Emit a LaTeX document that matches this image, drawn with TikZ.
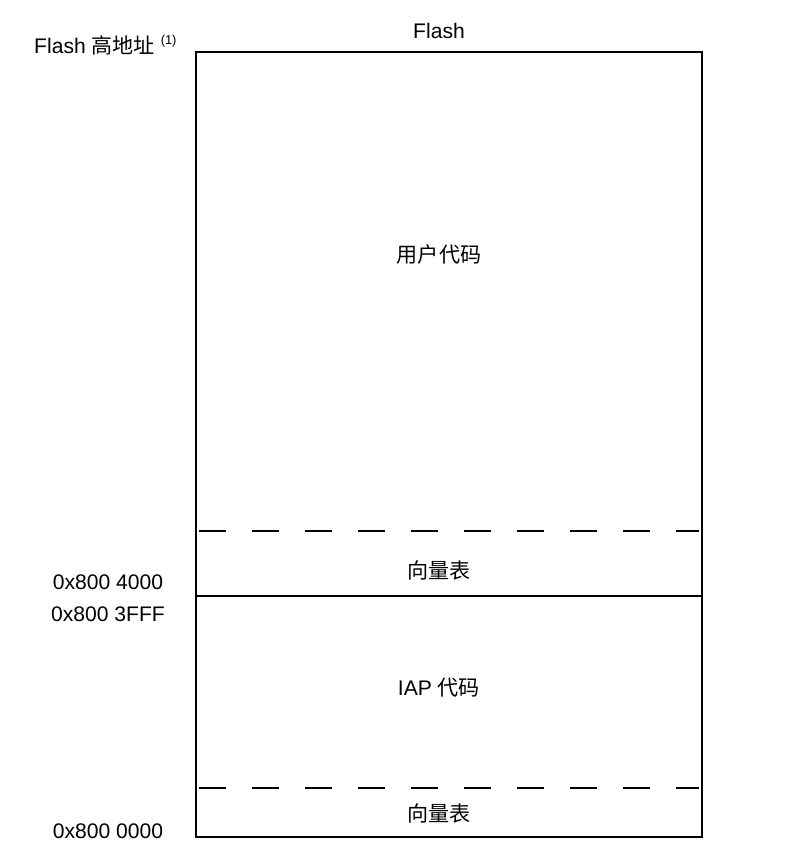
\documentclass[tikz,border=0pt]{standalone}
\usepackage{fontspec}
\setmainfont{Liberation Sans}
\newfontfamily\cjk{Noto Sans CJK SC}
\usetikzlibrary{positioning}

\begin{document}
\begin{tikzpicture}[x=0.03cm,y=-0.03cm,
  lbl/.style={font=\fontsize{18}{21}\selectfont,inner sep=0pt},
  cjklbl/.style={font=\fontsize{18}{21}\selectfont\cjk,inner sep=0pt},
  border/.style={line width=1.5pt},
  cut/.style={line width=1.7pt,dash pattern={on 0.81cm off 0.78cm}}]
\useasboundingbox (0,0) rectangle (790,866);
% memory box
\draw[border] (196,52) rectangle (702,837);
\coordinate (vtopL) at (199,531);
\coordinate (vtopR) at (699,531);
\coordinate (splitL) at (196,596);
\coordinate (splitR) at (702,596);
\coordinate (vbotL) at (199,788);
\coordinate (vbotR) at (699,788);
\draw[cut] (vtopL)--(vtopR);
\draw[border] (splitL)--(splitR);
\draw[cut] (vbotL)--(vbotR);
% region labels
\node[lbl] (title) at (439,31) {Flash};
\node[cjklbl] (user) at (439,254) {用户代码};
\node[cjklbl] (vecuser) at (439,570) {向量表};
\node[lbl] (iap) at (439,688) {IAP {\cjk 代码}};
\node[cjklbl] (veciap) at (439,813) {向量表};
% addresses
\node[lbl,anchor=west] (high) at (34,45) {Flash {\cjk 高地址} \raisebox{0.42em}{\fontsize{11}{13}\selectfont(1)}};
\node[lbl] (a4000) at (108,582) {0x800 4000};
\node[lbl] (a3fff) at (108,614) {0x800 3FFF};
\node[lbl] (a0000) at (108,831) {0x800 0000};
\end{tikzpicture}
\end{document}
